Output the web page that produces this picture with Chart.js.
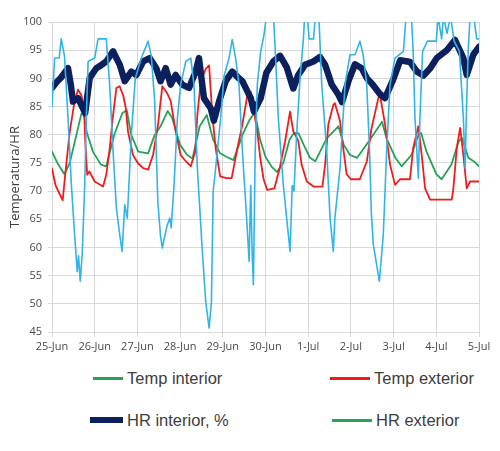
<!DOCTYPE html>
<html>
<head>
<meta charset="utf-8">
<script src="https://cdn.jsdelivr.net/npm/chart.js@4.4.1/dist/chart.umd.min.js"></script>
<style>
  body { margin: 0; background: #fff; }
  #wrap { position: relative; width: 500px; height: 451px; overflow: hidden; }
  #chart { position: absolute; left: 0; top: 0; }
  .item { position: absolute; display: flex; align-items: center; height: 24px;
          font-family: "Liberation Sans", Arial, sans-serif; font-size: 16.5px; color: #3d3d3d; white-space: nowrap; }
  .item .sw { margin-right: 4px; }
  .item:nth-child(1) { left: 93px; top: 366px; }
  .item:nth-child(2) { left: 330px; top: 366px; }
  .item:nth-child(3) { left: 90px; top: 408px; }
  .item:nth-child(4) { left: 332px; top: 408px; }
  .item:nth-child(1) .sw { width: 30px; height: 3px; }
  .item:nth-child(2) .sw { width: 40px; height: 3px; }
  .item:nth-child(3) .sw { width: 33px; height: 6px; }
  .item:nth-child(4) .sw { width: 40px; height: 3px; }
</style>
</head>
<body>
<div id="wrap">
  <canvas id="chart" width="500" height="360"></canvas>
  <div id="legend"></div>
</div>
<script>
const dayLabels = ['25-Jun', '26-Jun', '27-Jun', '28-Jun', '29-Jun', '30-Jun', '1-Jul', '2-Jul', '3-Jul', '4-Jul', '5-Jul'];
const seriesNames = ['Temp interior', 'Temp exterior', 'HR interior, %', 'HR exterior'];

// hours since 25-Jun 00:00
const tempIntHours = [0,3,7,10,13,16.5,18,19.5,23,27.5,30.5,35,39.5,42,44.5,48.5,54,57.5,61,65,67.5,72,76,79,83,87,90.5,94.5,98,102,107.5,111,114,117,120,123.5,126.5,130,133.5,136,138.5,141.5,145,148,154.5,161,164,167.5,171.5,178,185.5,188,193,196.5,202,206,207.5,210.5,216,219,224.5,228.5,230.5,234,237,240];
const tempInt = [77,75,73,75,79,83.7,83.5,80.5,77,74.7,74.4,80,83.8,84.4,80,77,76.7,79.8,81.5,84.2,83,78.2,76.4,75.8,81.5,83.5,79.2,76.7,76.1,75.5,80.3,82.6,84,79.1,76.1,74.3,73.4,75,79.1,80.3,80.3,78.2,75.9,75.3,79.4,81.5,78.2,76.4,75.9,78.8,82.3,79.4,75.9,74.4,76.4,80,80.3,77,73,72.1,74.7,78.8,79.4,75.9,75.3,74.4];

const tempExtHours = [0,2,5,6,8,10,12.7,14.6,16.5,18,18.7,19.8,21,24,28.7,30.5,32.4,34.3,36.2,38,40,41.5,42.7,45.5,48.4,51.2,54,56.8,59.6,62,64.5,66.7,69.5,72.3,75.2,78,80.5,81.7,83.6,86.4,88.3,90.1,92,94.5,98,101,104.2,107,109.8,111.7,113.5,115.4,117,119,121,125,128,131,133.8,135.6,138.4,140.3,143.2,147,152,153.5,155.3,158.1,159,161.9,163.7,165.6,168,173,177,179.5,183.4,184.4,187.2,190,192.8,195.6,201.2,203,205.9,207.8,209.7,212.5,224.7,225.6,227.5,229.4,231.2,233.1,235,240];
const tempExt = [74,71,69,68.4,74.7,80.6,85.9,88,87,84.7,78.8,72.9,73.5,71.7,70.8,72.9,77.5,83.4,88.3,88.6,87,84.7,80.6,76.4,74.9,74.1,73.8,76.4,81.8,88.6,87.5,86,80.6,76.4,75.3,74.4,77,83.5,89.4,91.7,92.3,83.5,77.6,72.6,72.3,72.3,77.6,81.8,87,87.6,84,80.6,76,72,70.2,70.5,74.1,78.8,84.1,80.6,79,74.7,71.7,70.8,70.8,74.7,81.8,85.3,85.6,82.4,77.6,73,72.1,72.1,75.3,81,86.5,87,81.8,74.7,71.1,72.1,72.1,77.6,81.5,76.4,70.5,68.5,68.5,70.5,77.6,81.2,76.4,70.5,71.7,71.7];

const hrIntHours = [0,2.5,5,9,10.5,11.8,14.6,17.4,18.6,21.2,24.9,27.5,30.5,34.3,38.1,40.9,44.6,47.4,51.2,54.9,58.6,61,63.9,66.7,69.5,73.2,77,80.8,82.6,85.4,89.2,91,93.9,97.6,101.3,105.1,107,111.7,113.5,117.3,120.5,124.4,128.2,131.9,135.6,138.4,142.2,146.9,150.6,153.5,157.2,161,163,166.6,170.3,174.1,177,180,184.4,187.2,191.9,195.7,201.3,205.1,208.8,212.6,216.3,221.9,226.5,231.2,233.1,236.8,240];
const hrInt = [88.3,89.3,90.1,91.8,89,85.9,86.5,84.7,83.8,90.1,91.8,92.3,93,94.8,92.4,89.5,91.2,90.6,93,93.6,91.8,89.5,91.8,88.9,90.6,88.9,88.3,91.2,93.6,86.5,84.7,82.5,85.9,89.5,91.2,90,89.5,86.5,84.1,86.5,91,93,94,92,88.2,90.6,92.4,93,93.8,92.4,88.9,87.1,85.8,89.5,92.5,91.8,90,89,87.2,86.5,89.9,93.2,92.9,91.2,90.5,91.8,93.6,95,96.8,93.6,90.6,94.2,95.6];

const hrExtHours = [0,1.5,4,5.2,7,9,10.9,12.7,14.2,14.9,15.9,17,18.4,19.3,20.3,24,25.9,30.5,32.4,34.3,36.2,38.1,39.4,40.9,42.3,44.6,46.8,50.2,54,55.8,57.7,59.5,61,62,63,64.8,66.2,67,68.6,70.5,72.3,75.2,78,79.8,81.7,84.5,86.4,88.3,89.6,90.6,92,94.8,96.7,99.5,101.3,103.2,105.1,107,109.4,110.8,111.7,112.5,113.2,114.2,115.4,117.3,119.2,120.5,124.5,125.5,127.2,130,131.9,133.8,135,136,137.5,139.4,141.3,142,143.5,144.5,147,148,150,151.6,154.4,156.3,158.1,159,161.9,164.7,167.5,170.3,173.1,174.9,176.9,178.5,179.5,180.6,184,186.2,188.1,190,192.8,197.5,199,202,203,204,205.9,206.8,208.3,211,216,217,219,220,222,224,226,229,231.2,232.2,233,234,235,237,238.7,240];
const hrExt = [85,93.6,93.6,97,94,83,71.1,62.2,55.7,58.5,54,59,71.1,83,93,93.6,97,97,88.9,77.2,67,62.2,59.3,67.6,65.2,80,90,93.6,96.6,94,86,68,62,59.9,61.5,64,65.2,63.5,71.1,83,88.9,93,93.6,88.9,74.1,59.3,50.4,45.7,50.4,70,74.1,83,90.4,93.6,96.9,93.6,88.9,77.2,65.2,57.5,71,59,53.4,77,88.9,94.8,97.8,101,101,94.8,83,71.1,65.2,59.3,71,70,80,90,97,101,101,97,97,101,101,88.9,77.2,65.2,59.3,65.2,74.1,88.9,94.2,94.2,96.6,94.2,88.9,77,66,60.5,54,62.2,77.2,88.9,93.6,94.8,101,101,94.8,83,72.3,83,94.8,96.6,96.6,101,97,101,98,101,96.6,94.8,83,74.1,85,95.4,101,101,97,97];

const GREEN = '#25a158';
const RED = '#f01c1c';
const NAVY = '#0b205c';
const SKY = '#33b4e8';
const GRID = '#d9d9dc';

function points(hours, values) {
  return hours.map((h, i) => ({x: h, y: values[i]}));
}

init();

function init() {
  buildLegend();

  let ctx = document.getElementById('chart').getContext('2d');
  window.tempChart = new Chart(ctx, {
    type: 'line',
    data: {
      datasets: [
        {label: seriesNames[0], data: points(tempIntHours, tempInt), borderColor: GREEN, borderWidth: 1.8, order: 4},
        {label: seriesNames[1], data: points(tempExtHours, tempExt), borderColor: RED, borderWidth: 1.8, order: 3},
        {label: seriesNames[2], data: points(hrIntHours, hrInt), borderColor: NAVY, borderWidth: 6.5, order: 2},
        {label: seriesNames[3], data: points(hrExtHours, hrExt), borderColor: SKY, borderWidth: 1.6, order: 1}
      ]
    },
    options: {
      responsive: false,
      animation: false,
      clip: 0,
      layout: {padding: {top: 22, right: 21, left: 0, bottom: 0}},
      elements: {
        point: {radius: 0},
        line: {tension: 0, borderJoinStyle: 'round', borderCapStyle: 'round'}
      },
      plugins: {
        legend: {display: false},
        tooltip: {enabled: false}
      },
      scales: {
        x: {
          type: 'linear',
          min: 0,
          max: 240,
          afterFit: (s) => { s.height = 28; },
          grid: {color: GRID, tickLength: 5},
          border: {color: GRID},
          ticks: {
            stepSize: 24,
            autoSkip: false,
            maxRotation: 0,
            padding: 3,
            color: '#4a4a4a',
            font: {family: 'Open Sans', size: 11},
            callback: (v) => dayLabels[Math.round(v / 24)]
          }
        },
        y: {
          min: 45,
          max: 100,
          afterFit: (s) => { s.width = 52; },
          grid: {color: GRID, tickLength: 4},
          border: {color: GRID},
          ticks: {
            stepSize: 5,
            padding: 6,
            color: '#4a4a4a',
            font: {family: 'Open Sans', size: 11}
          },
          title: {
            display: true,
            text: 'Temperatura/HR',
            color: '#3d3d3d',
            padding: {top: 7, bottom: 0},
            font: {family: 'Open Sans', size: 13}
          }
        }
      }
    }
  });
}

function buildLegend() {
  // the reference shows a green swatch for HR exterior too
  let swatchColors = [GREEN, RED, NAVY, GREEN];
  let legend = document.getElementById('legend');
  for (let i = 0; i < seriesNames.length; i++) {
    let item = document.createElement('div');
    item.className = 'item';
    let sw = document.createElement('span');
    sw.className = 'sw';
    sw.style.background = swatchColors[i];
    let txt = document.createElement('span');
    txt.textContent = seriesNames[i];
    item.appendChild(sw);
    item.appendChild(txt);
    legend.appendChild(item);
  }
}
</script>
</body>
</html>
